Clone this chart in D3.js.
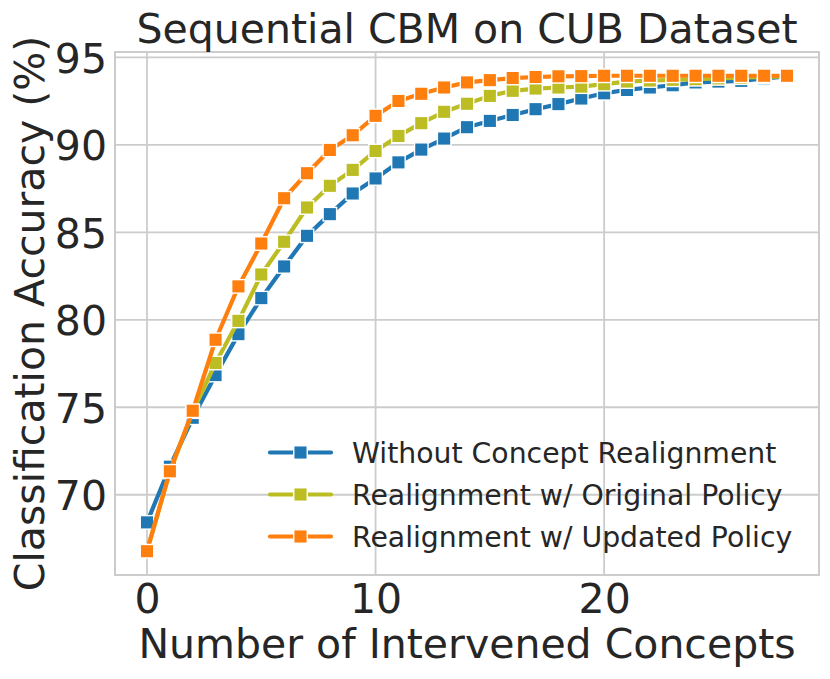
<!DOCTYPE html>
<html>
<head>
<meta charset="utf-8">
<script src="https://cdn.jsdelivr.net/npm/d3@7"></script>
<style>
  body { margin: 0; background: #fff; }
  text { font-family: "DejaVu Sans", sans-serif; fill: #262626; }
</style>
</head>
<body>
<script>

var w = 830, h = 679;

// number of intervened concepts
var concepts = d3.range(0, 29);

var withoutRealign = [68.42, 71.6, 74.4, 76.84, 79.18, 81.24, 83.05, 84.8, 86.04, 87.22,
  88.08, 89.0, 89.73, 90.36, 91.01, 91.37, 91.71, 92.04, 92.33, 92.65,
  92.95, 93.14, 93.28, 93.41, 93.57, 93.62, 93.66, 93.8, 93.92];

var originalPolicy = [66.8, 71.3, 74.75, 77.53, 79.94, 82.59, 84.46, 86.42, 87.66, 88.57,
  89.65, 90.51, 91.24, 91.89, 92.35, 92.8, 93.09, 93.22, 93.28, 93.33,
  93.47, 93.62, 93.68, 93.72, 93.75, 93.8, 93.84, 93.88, 93.92];

var updatedPolicy = [66.77, 71.34, 74.8, 78.86, 81.91, 84.36, 86.95, 88.38, 89.71, 90.55,
  91.66, 92.51, 92.92, 93.28, 93.57, 93.7, 93.82, 93.88, 93.92, 93.93,
  93.95, 93.95, 93.95, 93.95, 93.95, 93.95, 93.95, 93.95, 93.95];

var seriesNames = ["Without Concept Realignment", "Realignment w/ Original Policy", "Realignment w/ Updated Policy"];
var seriesColors = ["#1f77b4", "#bcbd22", "#ff7f0e"];

var xTicks = [0, 10, 20];
var yTicks = [70, 75, 80, 85, 90, 95];

var series = [withoutRealign, originalPolicy, updatedPolicy];

// plot area edges
var pLeft = 115, pRight = 819, pTop = 52, pBottom = 575;

var svg = d3.select("body")
  .append("svg")
  .attr("width", w)
  .attr("height", h);

// matplotlib style 5% margins
var xMin = d3.min(concepts), xMax = d3.max(concepts);
var xPad = (xMax - xMin) * 0.05;
var allY = [].concat(withoutRealign, originalPolicy, updatedPolicy);
var yMin = d3.min(allY), yMax = d3.max(allY);
var yPad = (yMax - yMin) * 0.05;

var xScale = d3.scaleLinear()
  .domain([xMin - xPad, xMax + xPad])
  .range([pLeft, pRight]);

var yScale = d3.scaleLinear()
  .domain([yMin - yPad, yMax + yPad])
  .range([pBottom, pTop]);

// grid
var grid = svg.append("g");
grid.selectAll("line.gx")
  .data(xTicks)
  .enter()
  .append("line")
  .attr("class", "gx")
  .attr("x1", d => xScale(d)).attr("x2", d => xScale(d))
  .attr("y1", pTop).attr("y2", pBottom)
  .attr("stroke", "#cccccc").attr("stroke-width", 1.8);
grid.selectAll("line.gy")
  .data(yTicks)
  .enter()
  .append("line")
  .attr("class", "gy")
  .attr("x1", pLeft).attr("x2", pRight)
  .attr("y1", d => yScale(d)).attr("y2", d => yScale(d))
  .attr("stroke", "#cccccc").attr("stroke-width", 1.8);

// spines
svg.append("rect")
  .attr("x", pLeft).attr("y", pTop)
  .attr("width", pRight - pLeft).attr("height", pBottom - pTop)
  .attr("fill", "none")
  .attr("stroke", "#cccccc")
  .attr("stroke-width", 2);

// tick labels
var xAxis = d3.axisBottom(xScale).tickValues(xTicks).tickSize(0).tickPadding(0);
var gx = svg.append("g")
  .attr("transform", `translate(0, ${pBottom})`)
  .call(xAxis);
gx.select(".domain").remove();
gx.selectAll("text")
  .attr("dy", null)
  .attr("y", 38)
  .attr("font-size", "41px")
  .attr("font-family", "DejaVu Sans")
  .attr("fill", "#262626");

var yAxis = d3.axisLeft(yScale).tickValues(yTicks).tickSize(0).tickPadding(0);
var gy = svg.append("g")
  .attr("transform", `translate(${pLeft}, 0)`)
  .call(yAxis);
gy.select(".domain").remove();
gy.selectAll("text")
  .attr("x", -8)
  .attr("dy", "0.3645em")
  .attr("font-size", "41px")
  .attr("font-family", "DejaVu Sans")
  .attr("fill", "#262626");

// lines and markers
var line = d3.line()
  .x((d, i) => xScale(concepts[i]))
  .y(d => yScale(d));

var ms = 13.5;

series.forEach(function(vals, k) {
  var g = svg.append("g");
  g.append("path")
    .datum(vals)
    .attr("d", line)
    .attr("fill", "none")
    .attr("stroke", seriesColors[k])
    .attr("stroke-width", 4.2)
    .attr("stroke-linejoin", "round")
    .attr("stroke-linecap", "round");
  g.selectAll("rect")
    .data(vals)
    .enter()
    .append("rect")
    .attr("x", (d, i) => xScale(concepts[i]) - ms / 2)
    .attr("y", d => yScale(d) - ms / 2)
    .attr("width", ms)
    .attr("height", ms)
    .attr("fill", seriesColors[k])
    .attr("stroke", "#ffffff")
    .attr("stroke-width", 1.4);
});

// legend
var legend = svg.append("g");
seriesNames.forEach(function(name, k) {
  var ly = 452.5 + k * 42;
  legend.append("line")
    .attr("x1", 270).attr("x2", 331)
    .attr("y1", ly).attr("y2", ly)
    .attr("stroke", seriesColors[k])
    .attr("stroke-width", 4.2)
    .attr("stroke-linecap", "round");
  legend.append("rect")
    .attr("x", 300.5 - ms / 2).attr("y", ly - ms / 2)
    .attr("width", ms).attr("height", ms)
    .attr("fill", seriesColors[k])
    .attr("stroke", "#ffffff")
    .attr("stroke-width", 1.4);
  legend.append("text")
    .attr("x", 352)
    .attr("y", ly + 10.2)
    .attr("font-size", "28.3px")
    .text(name);
});

// title and axis labels
svg.append("text")
  .attr("x", (pLeft + pRight) / 2)
  .attr("y", 43)
  .attr("text-anchor", "middle")
  .attr("font-size", "41px")
  .text("Sequential CBM on CUB Dataset");

svg.append("text")
  .attr("x", (pLeft + pRight) / 2)
  .attr("y", 658)
  .attr("text-anchor", "middle")
  .attr("font-size", "41px")
  .text("Number of Intervened Concepts");

svg.append("text")
  .attr("transform", `translate(43.5, ${(pTop + pBottom) / 2}) rotate(-90)`)
  .attr("text-anchor", "middle")
  .attr("font-size", "41px")
  .text("Classification Accuracy (%)");

</script>
</body>
</html>
